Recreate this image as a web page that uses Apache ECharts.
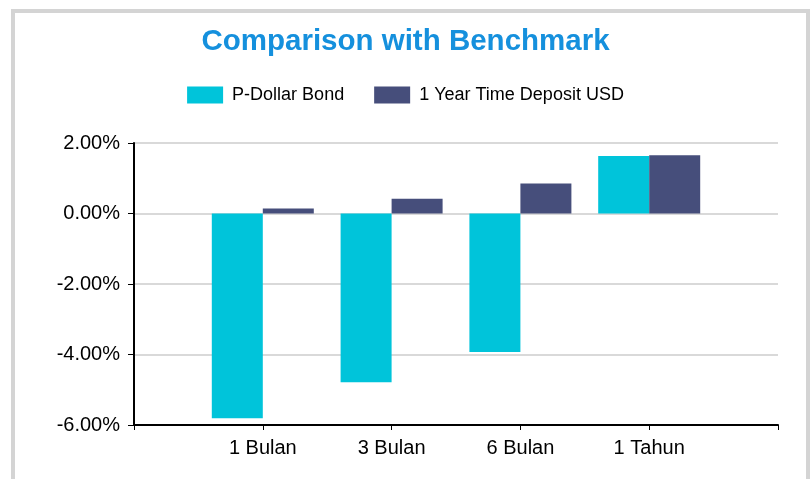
<!DOCTYPE html>
<html>
<head>
<meta charset="utf-8">
<script src="https://cdn.jsdelivr.net/npm/echarts@6/dist/echarts.min.js"></script>
<style>
html,body{margin:0;padding:0;background:#fff;}
#c{width:811px;height:479px;}
</style>
</head>
<body>
<div id="c"></div>
<script>
const categories = ['1 Bulan', '3 Bulan', '6 Bulan', '1 Tahun'];
const seriesNames = ['P-Dollar Bond', '1 Year Time Deposit USD'];
const pDollarBond = [-5.81, -4.79, -3.93, 1.63];
const timeDepositUSD = [0.14, 0.42, 0.85, 1.65];
const yTicks = [-6, -4, -2, 0, 2];

// padded category axis: empty slots at both ends so ticks sit at each label
const axisCats = [''].concat(categories, ['']);
const pad = arr => [null].concat(arr, [null]);

const chart = echarts.init(document.getElementById('c'), null, {renderer: 'canvas'});
const font = 'Liberation Sans, Arial, sans-serif';
chart.setOption({
  animation: false,
  backgroundColor: '#ffffff',
  graphic: [{
    type: 'rect', left: 11, top: 9, z: -1,
    shape: {width: 795, height: 480},
    style: {fill: '#ffffff', stroke: '#d4d4d4', lineWidth: 4}
  }],
  title: {
    text: 'Comparison with Benchmark',
    left: 'center', top: 22,
    textStyle: {color: '#1590DD', fontFamily: font, fontWeight: 'bold', fontSize: 29.5}
  },
  legend: {
    top: 81, left: 'center',
    itemWidth: 36, itemHeight: 17, itemGap: 30,
    icon: 'rect',
    textStyle: {color: '#000', fontFamily: font, fontSize: 18, padding: [0, 0, 0, 4]},
    data: seriesNames
  },
  grid: {left: 134, right: 33, top: 143, bottom: 54, containLabel: false},
  xAxis: {
    type: 'category',
    data: axisCats,
    boundaryGap: false,
    axisLine: {onZero: false, lineStyle: {color: '#000', width: 2}},
    axisTick: {show: true, length: 5, lineStyle: {color: '#000', width: 1}},
    axisLabel: {color: '#000', fontFamily: font, fontSize: 20, margin: 13, interval: 0},
    splitLine: {show: false}
  },
  yAxis: {
    type: 'value',
    min: yTicks[0], max: yTicks[yTicks.length - 1], interval: 2,
    axisLine: {show: true, lineStyle: {color: '#000', width: 2}},
    axisTick: {show: true, length: 6, lineStyle: {color: '#000', width: 1}},
    axisLabel: {color: '#000', fontFamily: font, fontSize: 20, margin: 14,
      formatter: v => v.toFixed(2) + '%'},
    splitLine: {show: true, lineStyle: {color: '#d9d9d9', width: 2}}
  },
  series: [
    {name: seriesNames[0], type: 'bar', data: pad(pDollarBond), barWidth: 51, barGap: '0%',
     itemStyle: {color: '#00C4DA'}},
    {name: seriesNames[1], type: 'bar', data: pad(timeDepositUSD), barWidth: 51, barGap: '0%',
     itemStyle: {color: '#464E7B'}}
  ]
});
</script>
</body>
</html>
